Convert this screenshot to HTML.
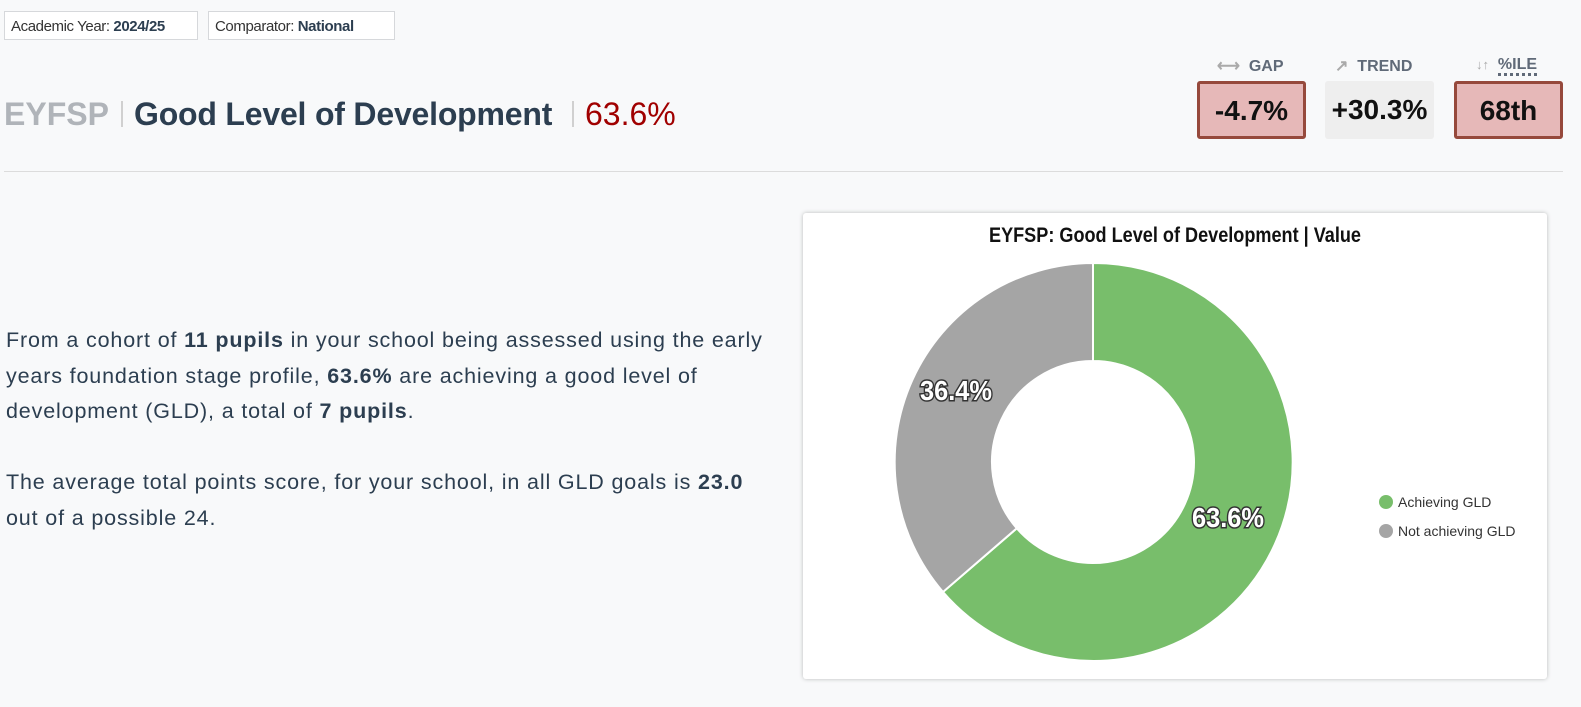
<!DOCTYPE html>
<html><head><meta charset="utf-8"><style>
body{margin:0;width:1581px;height:707px;background:#f8f9fa;font-family:"Liberation Sans",sans-serif;position:relative;overflow:hidden;color:#2c3e50}
.tag{position:absolute;top:11px;height:29px;border:1px solid #d6d8db;background:#fff;font-size:15px;letter-spacing:-0.4px;line-height:29px;padding:0 6px;box-sizing:border-box;color:#333;white-space:nowrap}
.tag b{color:#2c3e50}
.h{position:absolute;top:96px;font-size:32px;font-weight:bold;white-space:nowrap}
.sep{position:absolute;top:101px;width:2px;height:26px;background:#d0d0d0}
.kl{position:absolute;top:56px;font-size:16px;font-weight:bold;color:#606a78}
.kb{position:absolute;top:81px;height:58px;box-sizing:border-box;border-radius:3px;font-size:28px;font-weight:bold;color:#111;text-align:center;line-height:54px}
.p{position:absolute;left:6px;font-size:21.5px;letter-spacing:0.85px;line-height:35.5px;color:#2c3e50;white-space:nowrap}
</style></head><body>
<div class="tag" style="left:4px;width:194px">Academic Year: <b>2024/25</b></div>
<div class="tag" style="left:208px;width:187px">Comparator: <b>National</b></div>
<div class="h" style="left:4px;color:#b0b4b9">EYFSP</div>
<div class="sep" style="left:121px"></div>
<div class="h" style="left:134px;letter-spacing:-0.2px">Good Level of Development</div>
<div class="sep" style="left:572px"></div>
<div class="h" style="left:585px;color:#a00000;font-weight:normal">63.6%</div>
<div class="kl" style="left:1217px"><span style="color:#aaa">⟷</span>&nbsp; GAP</div>
<div class="kl" style="left:1335px"><span style="color:#aaa">↗</span>&nbsp; TREND</div>
<div class="kl" style="left:1476px"><span style="color:#aaa;font-size:13px">↓↑</span>&nbsp; <span style="border-bottom:3px dotted #606a78">%ILE</span></div>
<div class="kb" style="left:1197px;width:109px;background:#e6b8b8;border:3px solid #96493c">-4.7%</div>
<div class="kb" style="left:1325px;width:109px;background:#eeeeee;line-height:58px">+30.3%</div>
<div class="kb" style="left:1454px;width:109px;background:#e6b8b8;border:3px solid #96493c">68th</div>
<div style="position:absolute;left:4px;top:171px;width:1559px;height:1px;background:#dcdcdc"></div>
<div class="p" style="top:323px">From a cohort of <b>11 pupils</b> in your school being assessed using the early<br>years foundation stage profile, <b>63.6%</b> are achieving a good level of<br>development (GLD), a total of <b>7 pupils</b>.</div>
<div class="p" style="top:465px">The average total points score, for your school, in all GLD goals is <b>23.0</b><br>out of a possible 24.</div>
<div style="position:absolute;left:803px;top:213px;width:744px;height:466px;background:#fff;box-shadow:0 0 4px rgba(0,0,0,.25);border-radius:3px"></div>
<svg style="position:absolute;left:0;top:0" width="1581" height="707">
<text x="989" y="242" textLength="372" lengthAdjust="spacingAndGlyphs" font-family="Liberation Sans, sans-serif" font-weight="bold" font-size="21" fill="#111">EYFSP: Good Level of Development | Value</text>
<path d="M1093,263 A199,199 0 1 1 943,592 L1016.8,528.3 A101,101 0 1 0 1093,361 Z" fill="#78be6b" stroke="#fff" stroke-width="2"/>
<path d="M943,592 A199,199 0 0 1 1093,263 L1093,361 A101,101 0 0 0 1016.8,528.3 Z" fill="#a5a5a5" stroke="#fff" stroke-width="2"/>
<g font-family="Liberation Sans, sans-serif" font-weight="bold" font-size="28" fill="#fff" stroke="#333" stroke-width="3" paint-order="stroke">
<text x="1192" y="527" textLength="72" lengthAdjust="spacingAndGlyphs">63.6%</text>
<text x="920" y="400" textLength="72" lengthAdjust="spacingAndGlyphs">36.4%</text></g>
<circle cx="1386" cy="502" r="7" fill="#78be6b"/>
<circle cx="1386" cy="531" r="7" fill="#a5a5a5"/>
<g font-family="Liberation Sans, sans-serif" font-size="14" fill="#333">
<text x="1398" y="507">Achieving GLD</text>
<text x="1398" y="536">Not achieving GLD</text></g>
</svg>
</body></html>
